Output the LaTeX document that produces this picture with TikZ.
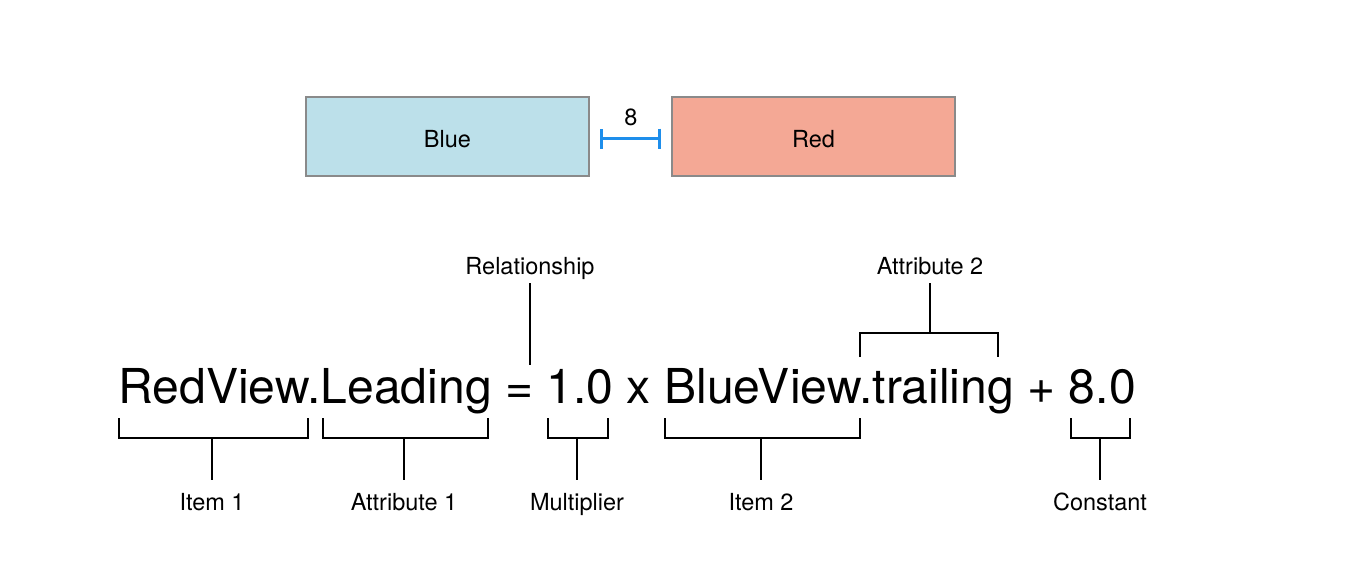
\documentclass[tikz,border=0pt]{standalone}
\usepackage{fontspec}
\setmainfont{TeX Gyre Heros}
\usetikzlibrary{arrows.meta}
\definecolor{bluefill}{HTML}{BCE0EA}
\definecolor{redfill}{HTML}{F4A895}
\definecolor{boxborder}{HTML}{8A8A8A}
\definecolor{spacer}{HTML}{1E8EEB}
\begin{document}
\begin{tikzpicture}[x=1pt,y=-1pt,
  viewbox/.style={draw=boxborder, line width=1.5pt, minimum width=283pt, minimum height=79pt, inner sep=0pt, font=\fontsize{23.5}{26}\selectfont},
  lbl/.style={anchor=base, inner sep=0pt, font=\fontsize{23.5}{26}\selectfont},
  brk/.style={draw=black, line width=2pt}
]
\useasboundingbox (0,0) rectangle (1348,566);
% views
\node[viewbox, fill=bluefill] (blue) at (447.5,136.5) {\smash{\raisebox{-10.9pt}{Blue}}};
\node[viewbox, fill=redfill] (red) at (813.5,136.5) {\smash{\raisebox{-10.9pt}{Red}}};
% spacer
\coordinate (sl) at (600,138.5);
\coordinate (sr) at (661,138.5);
\draw[spacer, line width=3pt, {Bar[width=20pt,line width=3pt]}-{Bar[width=20pt,line width=3pt]}] (sl) -- (sr);
\node[lbl] (eight) at (631,125) {8};
% equation
\node[anchor=base, inner sep=0pt, font=\fontsize{48.1}{52}\selectfont] (eq) at (627,403) {RedView.Leading = 1.0 x BlueView.trailing + 8.0};
% labels
\node[lbl] (item1) at (212,510) {Item 1};
\node[lbl] (attr1) at (404,510) {Attribute 1};
\node[lbl] (mult) at (577,510) {Multiplier};
\node[lbl] (item2) at (761,510) {Item 2};
\node[lbl] (const) at (1100,510) {Constant};
\node[lbl] (rel) at (530,274) {Relationship};
\node[lbl] (attr2) at (930,274) {Attribute 2};
% bottom brackets
\draw[brk] (119,418) -- (119,438) -- (308,438) -- (308,418);
\draw[brk] (212,438) -- (212,480);
\draw[brk] (323,418) -- (323,438) -- (488,438) -- (488,418);
\draw[brk] (404,438) -- (404,480);
\draw[brk] (548,418) -- (548,438) -- (608,438) -- (608,418);
\draw[brk] (577,438) -- (577,480);
\draw[brk] (665,418) -- (665,438) -- (860,438) -- (860,418);
\draw[brk] (761,438) -- (761,480);
\draw[brk] (1071,418) -- (1071,438) -- (1130,438) -- (1130,418);
\draw[brk] (1100,438) -- (1100,480);
% top brackets
\draw[brk] (530,283) -- (530,365);
\draw[brk] (860,357) -- (860,333) -- (998,333) -- (998,357);
\draw[brk] (930,333) -- (930,283);
\end{tikzpicture}
\end{document}
